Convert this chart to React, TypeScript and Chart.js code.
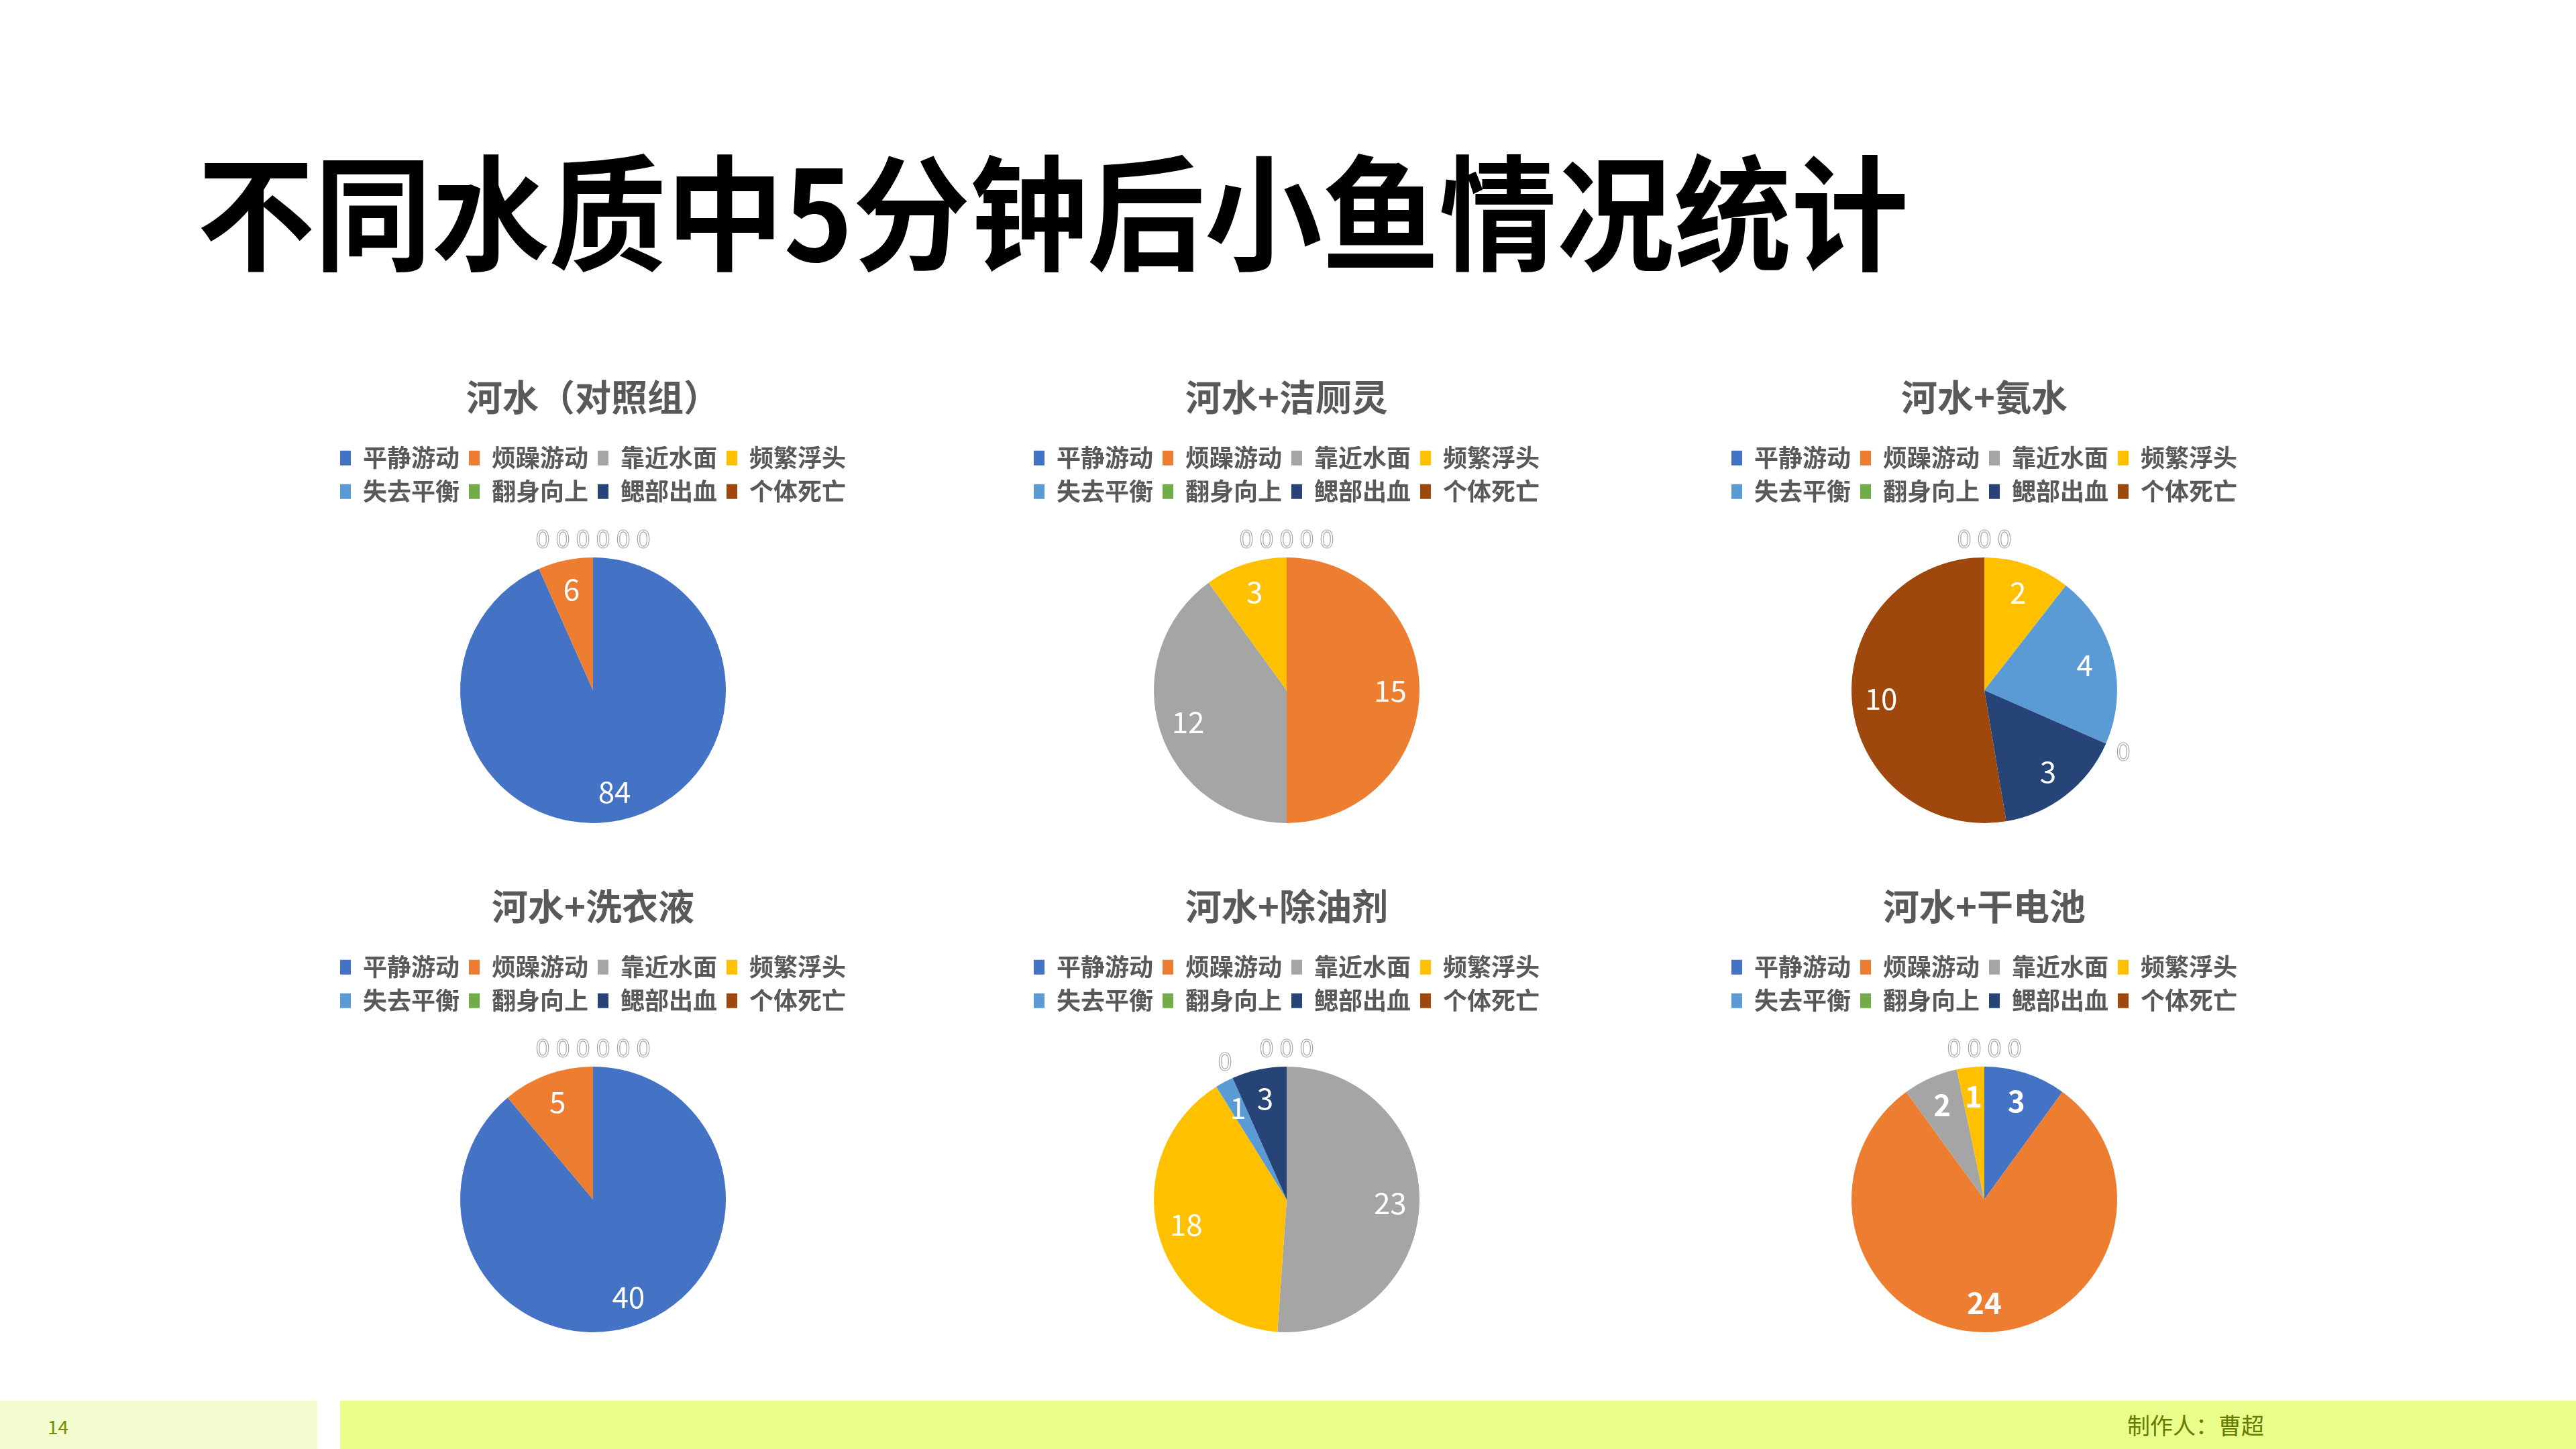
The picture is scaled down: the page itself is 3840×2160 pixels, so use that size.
import React, { useEffect, useRef } from 'react';
import { Chart, registerables } from 'chart.js';

Chart.register(...registerables);

const FONT = '"Noto Sans CJK SC", "Noto Sans", sans-serif';

// ---- data ----
const categories = ['平静游动', '烦躁游动', '靠近水面', '频繁浮头', '失去平衡', '翻身向上', '鳃部出血', '个体死亡'];
const sliceColors = ['#4472C4', '#ED7D31', '#A5A5A5', '#FFC000', '#5B9BD5', '#70AD47', '#264478', '#9E480E'];
const chartTitles = ['河水（对照组）', '河水+洁厕灵', '河水+氨水', '河水+洗衣液', '河水+除油剂', '河水+干电池'];
const riverWater = [84, 6, 0, 0, 0, 0, 0, 0];
const toiletCleaner = [0, 15, 12, 3, 0, 0, 0, 0];
const ammonia = [0, 0, 0, 2, 4, 0, 3, 10];
const detergent = [40, 5, 0, 0, 0, 0, 0, 0];
const degreaser = [0, 0, 23, 18, 1, 0, 3, 0];
const battery = [3, 24, 2, 1, 0, 0, 0, 0];
const pageTitle = '不同水质中5分钟后小鱼情况统计';
const pageNumber = '14';
const authorText = '制作人：曹超';

const seriesList = [riverWater, toiletCleaner, ammonia, detergent, degreaser, battery];

const sliceLabelPlugin = {
  id: 'sliceLabels',
  afterDatasetsDraw(chart: any, _args: any, opts: any) {
    const ctx = chart.ctx;
    const meta = chart.getDatasetMeta(0);
    const values = chart.data.datasets[0].data as number[];
    const TWO_PI = Math.PI * 2;
    const groups: { angle: number; x: number; y: number; r: number; items: number[] }[] = [];
    ctx.save();
    ctx.textAlign = 'center';
    ctx.textBaseline = 'middle';
    meta.data.forEach((arc: any, i: number) => {
      const p = arc.getProps(['x', 'y', 'startAngle', 'endAngle', 'outerRadius'], true);
      const v = values[i];
      if (v > 0) {
        const mid = (p.startAngle + p.endAngle) / 2;
        const rr = p.outerRadius * 0.78;
        ctx.font = `${opts && opts.bold ? '700' : '400'} 44px ${FONT}`;
        ctx.fillStyle = '#FFFFFF';
        ctx.fillText(String(v), p.x + Math.cos(mid) * rr, p.y + Math.sin(mid) * rr);
      } else {
        let a = (((p.startAngle + Math.PI / 2) % TWO_PI) + TWO_PI) % TWO_PI;
        if (TWO_PI - a < 1e-6 || a < 1e-6) a = 0;
        let g = groups.find((gr) => Math.abs(gr.angle - a) < 1e-6);
        if (!g) {
          g = { angle: a, x: p.x, y: p.y, r: p.outerRadius, items: [] };
          groups.push(g);
        }
        g.items.push(i);
      }
    });
    ctx.font = `400 38px ${FONT}`;
    ctx.strokeStyle = '#A6A6A6';
    ctx.lineWidth = 1.2;
    groups.forEach((g) => {
      const ang = g.angle - Math.PI / 2;
      const rr = g.r + 28;
      const bx = g.x + Math.cos(ang) * rr;
      const by = g.y + Math.sin(ang) * rr;
      const n = g.items.length;
      g.items.forEach((idx, k) => {
        ctx.strokeText(String(values[idx]), bx + (k - (n - 1) / 2) * 30, by);
      });
    });
    ctx.restore();
  },
};

function PieChart({ title, values, bold, left, top }: { title: string; values: number[]; bold: boolean; left: number; top: number }) {
  const ref = useRef<HTMLCanvasElement>(null);
  useEffect(() => {
    const chart = new Chart(ref.current as HTMLCanvasElement, {
      type: 'pie',
      data: {
        labels: categories,
        datasets: [
          {
            data: values,
            backgroundColor: sliceColors,
            borderWidth: 0,
            radius: 198,
          } as any,
        ],
      },
      options: {
        responsive: false,
        animation: false,
        devicePixelRatio: 1,
        layout: { padding: { left: 50, right: 50, top: 0, bottom: 0 } },
        plugins: {
          title: {
            display: true,
            text: title,
            color: '#595959',
            font: { family: FONT, size: 54, weight: 'bold' },
            padding: { top: 20, bottom: 26 },
          },
          legend: {
            position: 'top',
            align: 'center',
            labels: {
              boxWidth: 16,
              boxHeight: 22,
              padding: 14,
              color: '#595959',
              font: { family: FONT, size: 36, weight: 'bold' },
            },
          },
          tooltip: { enabled: false },
          sliceLabels: { bold },
        } as any,
      },
      plugins: [sliceLabelPlugin as any],
    });
    return () => chart.destroy();
  }, []);
  return (
    <div style={{ position: 'absolute', left, top, width: 1000, height: 757 }}>
      <canvas ref={ref} width={1000} height={757} style={{ width: 1000, height: 757, display: 'block' }} />
    </div>
  );
}

const colLefts = [384, 1418, 2458];
const rowTops = [540, 1299];

export default function App() {
  return (
    <div style={{ position: 'absolute', left: 0, top: 0, width: 3840, height: 2160, background: '#FFFFFF', overflow: 'hidden', fontFamily: FONT }}>
      <div style={{ position: 'absolute', left: 294, top: 215, fontSize: 186, fontWeight: 700, lineHeight: 1, color: '#000000', whiteSpace: 'nowrap', transform: 'scaleX(0.94)', transformOrigin: 'left center' }}>{pageTitle}</div>
      {seriesList.map((vals, i) => (
        <PieChart key={i} title={chartTitles[i]} values={vals} bold={i === 5} left={colLefts[i % 3]} top={rowTops[Math.floor(i / 3)]} />
      ))}
      <div style={{ position: 'absolute', left: 0, top: 2088, width: 473, height: 72, background: '#F3FCCE' }} />
      <div style={{ position: 'absolute', left: 507, top: 2088, width: 3333, height: 72, background: '#E8FD8A' }} />
      <div style={{ position: 'absolute', left: 71, top: 2112, fontSize: 28, lineHeight: 1, color: '#758A00' }}>{pageNumber}</div>
      <div style={{ position: 'absolute', left: 3171, top: 2107, fontSize: 34, lineHeight: 1, color: '#667C00', whiteSpace: 'nowrap' }}>{authorText}</div>
    </div>
  );
}
